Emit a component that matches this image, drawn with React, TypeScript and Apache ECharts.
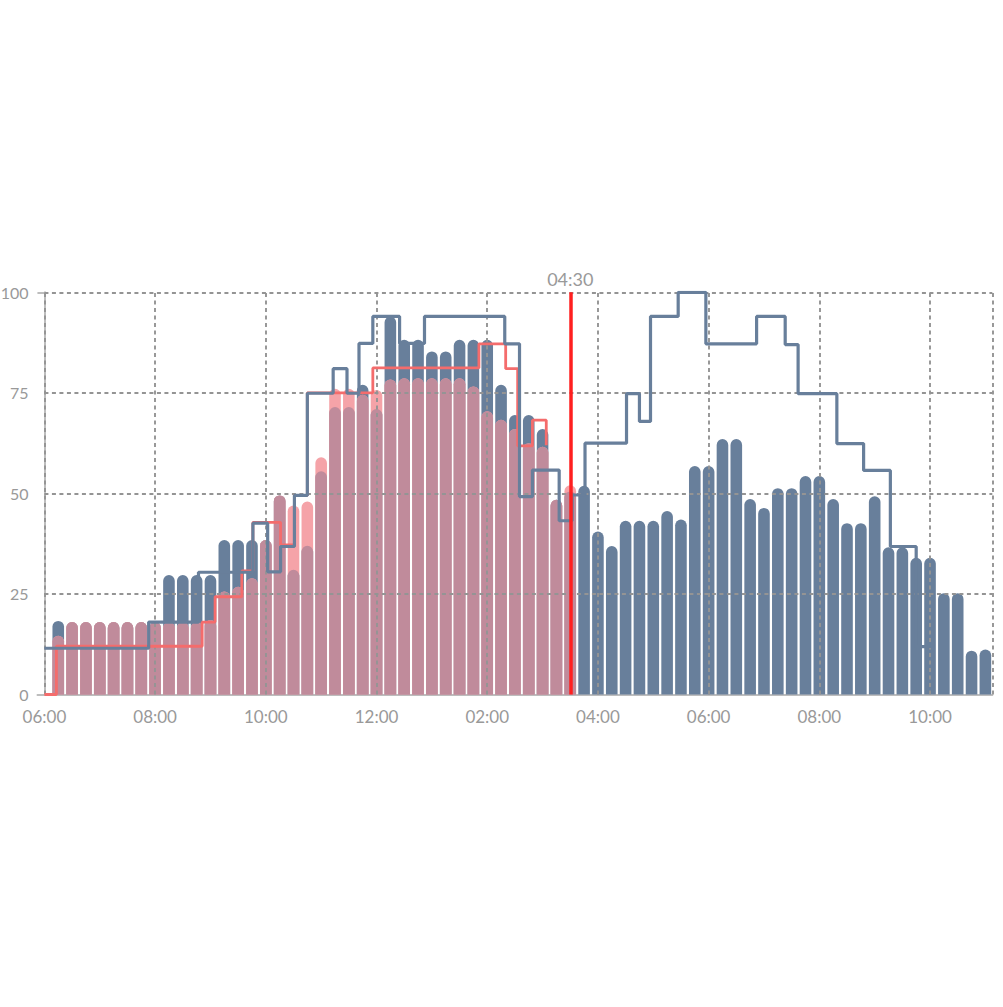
import React, { useEffect, useRef } from "react";
import * as echarts from "echarts";

// ---- data ----
const FIRST_SLOT = "06:00";
const LAST_SLOT = "23:00";
const SLOT_MINUTES = 15;

const actualBars: (number | null)[] = [
  null, 18.3, 18, 18, 18, 18, 18, 18, 18, 29.7, 29.7, 29.7, 29.7, 38.4, 38.4, 38.4,
  38.4, 49.5, 31, 37, 55.5, 71.5, 71.5, 77, 71, 94, 88.2, 88.2, 85.3, 85.3, 88.2, 88.2,
  88.2, 77, 69.5, 69.5, 66, 48.4, 50.5, 51.9, 40.5, 36.9, 43.2, 43.2, 43.2, 45.6, 43.5,
  56.8, 56.8, 63.5, 63.5, 48.6, 46.4, 51.3, 51.3, 54.3, 54.3, 48.6, 42.6, 42.6, 49.3,
  36.6, 36.6, 34, 34, 25.2, 25.2, 10.9, 11.2,
];

const todayBars: (number | null)[] = [
  null, 14.6, 18, 18, 18, 18, 18, 18, 18, 18, 18, 18, 18.5, 25.6, 26.8, 28.9,
  38.4, 49.5, 47, 48, 59, 76, 76, 74.5, 75.7, 78.3, 78.6, 78.6, 78.6, 78.6, 78.6, 76.6,
  70.4, 68.3, 66, 62.5, 61.6, 48.4, 52,
];

const usualTimes = [
  "06:00", "07:53", "08:47", "09:46", "10:02", "10:16", "10:31", "10:45", "11:13",
  "11:28", "11:41", "11:56", "12:25", "12:52", "14:19", "14:35", "14:49", "15:18",
  "15:32", "15:46", "16:31", "16:45", "16:57", "17:27", "17:57", "18:52", "19:23",
  "19:37", "20:19", "20:48", "21:17", "21:45", "22:05",
];
const usualValues = [
  11.5, 18, 30.4, 42.6, 30.5, 36.8, 49.5, 74.9, 81, 74.9, 87.3, 94, 87.3, 94, 87.2,
  49.2, 55.8, 43.2, 49.6, 62.5, 74.8, 67.9, 94, 100, 87.2, 94, 87, 74.8, 62.4, 55.7,
  36.8, 11.9, 11.9,
];

const liveTimes = [
  "06:00", "06:13", "08:51", "09:05", "09:34", "09:46", "10:16", "10:31", "10:45",
  "11:56", "13:51", "14:20", "14:33", "14:49", "15:04",
];
const liveValues = [0, 12, 18, 24.3, 30.7, 42.8, 37.2, 49.5, 75, 81.2, 87.2, 81, 61.8, 68.2, 62];

const nowTime = "15:30";
const nowLabel = "04:30";

const yTicks = [0, 25, 50, 75, 100];
const xGridTimes = ["06:00", "08:00", "10:00", "12:00", "14:00", "16:00", "18:00", "20:00", "22:00"];

// ---- helpers ----
const toMin = (t: string) => {
  const [h, m] = t.split(":").map(Number);
  return h * 60 + m;
};
const pad = (n: number) => (n < 10 ? "0" + n : "" + n);
const toSlot = (t: string) => (toMin(t) - toMin(FIRST_SLOT)) / SLOT_MINUTES;
const to12h = (t: string) => {
  const [h, m] = t.split(":").map(Number);
  const h12 = h % 12 === 0 ? 12 : h % 12;
  return pad(h12) + ":" + pad(m);
};

const categories: string[] = [];
for (let m = toMin(FIRST_SLOT); m <= toMin(LAST_SLOT); m += SLOT_MINUTES) {
  categories.push(pad(Math.floor(m / 60)) + ":" + pad(m % 60));
}
const lastSlot = categories.length - 1;

const DARK = "#687f9b";
const MAUVE = "#c08b9b";
const LIGHT_PINK = "#f5a3a8";
const PINK_LINE = "#f46c6c";
const GRID_COLOR = "#949494";
const TEXT = "#999999";
const FONT = "Lato";

export default function App() {
  const ref = useRef<HTMLDivElement>(null);

  useEffect(() => {
    if (!ref.current) return;
    const chart = echarts.init(ref.current, undefined, { renderer: "svg" });

    const overlap = categories.map((_, i) => {
      const a = actualBars[i];
      const b = i < todayBars.length ? todayBars[i] : null;
      if (a == null || b == null) return null;
      return Math.min(a, b);
    });
    const today = categories.map((_, i) => (i < todayBars.length ? todayBars[i] : null));

    const barBase = {
      type: "bar" as const,
      xAxisIndex: 0,
      yAxisIndex: 0,
      barWidth: 11.6,
      barGap: "-100%",
      z: 2,
      silent: true,
    };
    const radius = [6, 6, 0, 0];

    const gridLines: any[] = [];
    yTicks.forEach((v) => {
      if (v === 0) return;
      gridLines.push([{ coord: [0, v] }, { coord: [lastSlot + 0.5, v] }]);
    });
    xGridTimes.forEach((t) => {
      const s = toSlot(t);
      gridLines.push([{ coord: [s, 0] }, { coord: [s, 100] }]);
    });
    gridLines.push([{ coord: [lastSlot + 0.5, 0] }, { coord: [lastSlot + 0.5, 100] }]);

    const option: any = {
      animation: false,
      grid: {
        left: 37.5,
        right: 10.7,
        top: 292.3,
        bottom: 312.5,
        containLabel: false,
        outerBoundsMode: "none",
      },
      xAxis: [
        {
          type: "category",
          data: categories,
          boundaryGap: true,
          axisLine: { show: true, lineStyle: { color: "#bdbdbd", width: 2 } },
          axisTick: { show: false },
          splitLine: { show: false },
          axisLabel: {
            interval: 7,
            formatter: (v: string) => to12h(v),
            color: TEXT,
            fontFamily: FONT,
            fontSize: 17,
            margin: 13,
          },
        },
        {
          type: "value",
          min: -0.5,
          max: lastSlot + 0.5,
          show: false,
          splitLine: { show: false },
        },
      ],
      yAxis: {
        type: "value",
        min: 0,
        max: 100,
        interval: 25,
        axisLine: { show: true, lineStyle: { color: "#bdbdbd", width: 2 } },
        axisTick: {
          show: true,
          length: 7,
          customValues: [0, 100],
          lineStyle: { color: "#bdbdbd", width: 2 },
        },
        splitLine: { show: false },
        axisLabel: {
          color: TEXT,
          fontFamily: FONT,
          fontSize: 16,
          margin: 9,
        },
      },
      series: [
        {
          ...barBase,
          name: "actual",
          data: actualBars,
          itemStyle: { color: DARK, borderRadius: radius },
        },
        {
          ...barBase,
          name: "today",
          data: today,
          itemStyle: { color: LIGHT_PINK, borderRadius: radius },
        },
        {
          ...barBase,
          name: "overlap",
          data: overlap,
          itemStyle: { color: MAUVE, borderRadius: radius },
        },
        {
          type: "line",
          name: "grid",
          xAxisIndex: 1,
          yAxisIndex: 0,
          data: [[0, 0]],
          showSymbol: false,
          silent: true,
          lineStyle: { opacity: 0 },
          markLine: {
            z: 3,
            silent: true,
            symbol: "none",
            animation: false,
            label: { show: false },
            lineStyle: { type: [4, 3.5], color: GRID_COLOR, width: 1.9 },
            data: gridLines,
          },
        },
        {
          type: "line",
          name: "live",
          xAxisIndex: 1,
          yAxisIndex: 0,
          step: "end",
          showSymbol: false,
          silent: true,
          z: 6,
          data: liveTimes.map((t, i) => [toSlot(t), liveValues[i]]),
          lineStyle: { color: PINK_LINE, width: 2.8 },
        },
        {
          type: "line",
          name: "usual",
          xAxisIndex: 1,
          yAxisIndex: 0,
          step: "end",
          showSymbol: false,
          silent: true,
          z: 7,
          data: usualTimes.map((t, i) => [toSlot(t), usualValues[i]]),
          lineStyle: { color: DARK, width: 3.2 },
        },
        {
          type: "line",
          name: "now",
          xAxisIndex: 1,
          yAxisIndex: 0,
          data: [[toSlot(nowTime), 0]],
          showSymbol: false,
          silent: true,
          lineStyle: { opacity: 0 },
          markLine: {
            z: 10,
            silent: true,
            symbol: "none",
            animation: false,
            lineStyle: { type: "solid", color: "#ff1f1f", width: 3.5 },
            label: {
              show: true,
              position: "end",
              formatter: nowLabel,
              color: TEXT,
              fontFamily: FONT,
              fontSize: 18,
              distance: 4,
            },
            data: [{ xAxis: toSlot(nowTime) }],
          },
        },
      ],
    };

    chart.setOption(option);
    return () => chart.dispose();
  }, []);

  return (
    <div
      ref={ref}
      style={{ position: "absolute", left: 0, top: 0, width: 1003, height: 1007 }}
    />
  );
}
